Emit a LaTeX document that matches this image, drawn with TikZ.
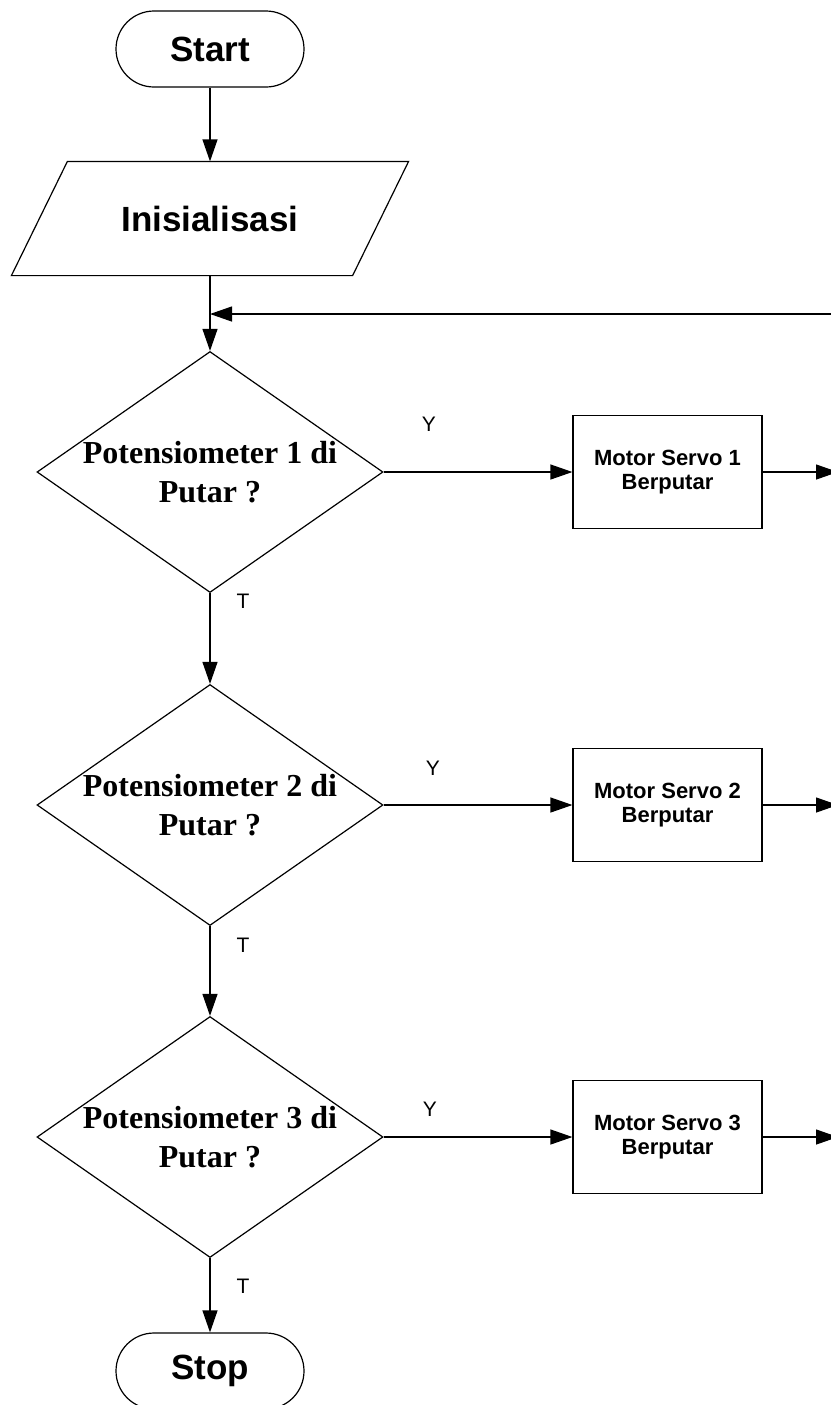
\documentclass[tikz,border=0pt]{standalone}
\usepackage{fontspec}
\setmainfont{Liberation Serif}
\setsansfont{Liberation Sans}
\usetikzlibrary{arrows.meta, shapes.geometric}

\tikzset{
    terminal/.style={draw, rectangle, rounded corners=19pt, minimum width=94pt,
        minimum height=38pt, inner sep=0pt,
        font=\sffamily\bfseries\fontsize{17.5}{21}\selectfont},
    io/.style={rectangle, minimum width=170pt, minimum height=56.5pt, inner sep=0pt,
        font=\sffamily\bfseries\fontsize{17.5}{21}\selectfont},
    decision/.style={draw, diamond, aspect=1.436, minimum width=173pt,
        minimum height=120.5pt, inner sep=0pt},
    dtext/.style={align=center, inner sep=0pt,
        font=\rmfamily\bfseries\fontsize{16}{19.5}\selectfont},
    process/.style={draw, rectangle, minimum width=94.5pt, minimum height=56.5pt,
        align=center, font=\sffamily\bfseries\fontsize{11}{12}\selectfont},
    lbl/.style={inner sep=0pt, font=\sffamily\fontsize{10.5}{12}\selectfont},
}

\begin{document}
\begin{tikzpicture}[x=0.5pt, y=-0.5pt, line width=0.6pt,
    >={Triangle[length=11pt, width=7.5pt]}]
    \clip (0, 0) rectangle (831, 1405);

    % main column
    \node [terminal] (start) at (210, 49) {Start};
    \node [io] (init) at (210, 218.5) {Inisialisasi};
    \draw ([xshift=14pt]init.north west) -- ([xshift=14pt]init.north east)
        -- ([xshift=-14pt]init.south east) -- ([xshift=-14pt]init.south west) -- cycle;
    \coordinate (join) at (210, 314);
    \coordinate (back) at (840, 314);

    \node [decision] (d1) at (210, 472) {};
    \node [dtext] at (d1) {Potensiometer 1 di\\Putar ?};
    \node [decision] (d2) at (210, 805) {};
    \node [dtext] at (d2) {Potensiometer 2 di\\Putar ?};
    \node [decision] (d3) at (210, 1137) {};
    \node [dtext] at (d3) {Potensiometer 3 di\\Putar ?};

    \node [terminal] (stop) at (210, 1371) {Stop};

    % servo boxes
    \node [process] (p1) at (667.5, 472) {Motor Servo 1\\Berputar};
    \node [process] (p2) at (667.5, 805) {Motor Servo 2\\Berputar};
    \node [process] (p3) at (667.5, 1137) {Motor Servo 3\\Berputar};
    \coordinate (o1) at (838, 472);
    \coordinate (o2) at (838, 805);
    \coordinate (o3) at (838, 1137);

    %% panah
    \draw [->] (start) -- (init);
    \draw [->] (init) -- (d1);
    \draw [->] (back) -- (join);
    \draw [->] (d1) -- (d2);
    \draw [->] (d2) -- (d3);
    \draw [->] (d3) -- (stop);
    \draw [->] (d1) -- (p1);
    \draw [->] (d2) -- (p2);
    \draw [->] (d3) -- (p3);
    \draw [->] (p1) -- (o1);
    \draw [->] (p2) -- (o2);
    \draw [->] (p3) -- (o3);

    %% Y / T
    \node [lbl] at (429, 424) {Y};
    \node [lbl] at (433, 768) {Y};
    \node [lbl] at (430, 1109) {Y};
    \node [lbl] at (243, 601) {T};
    \node [lbl] at (243, 945) {T};
    \node [lbl] at (243, 1286) {T};
\end{tikzpicture}
\end{document}
